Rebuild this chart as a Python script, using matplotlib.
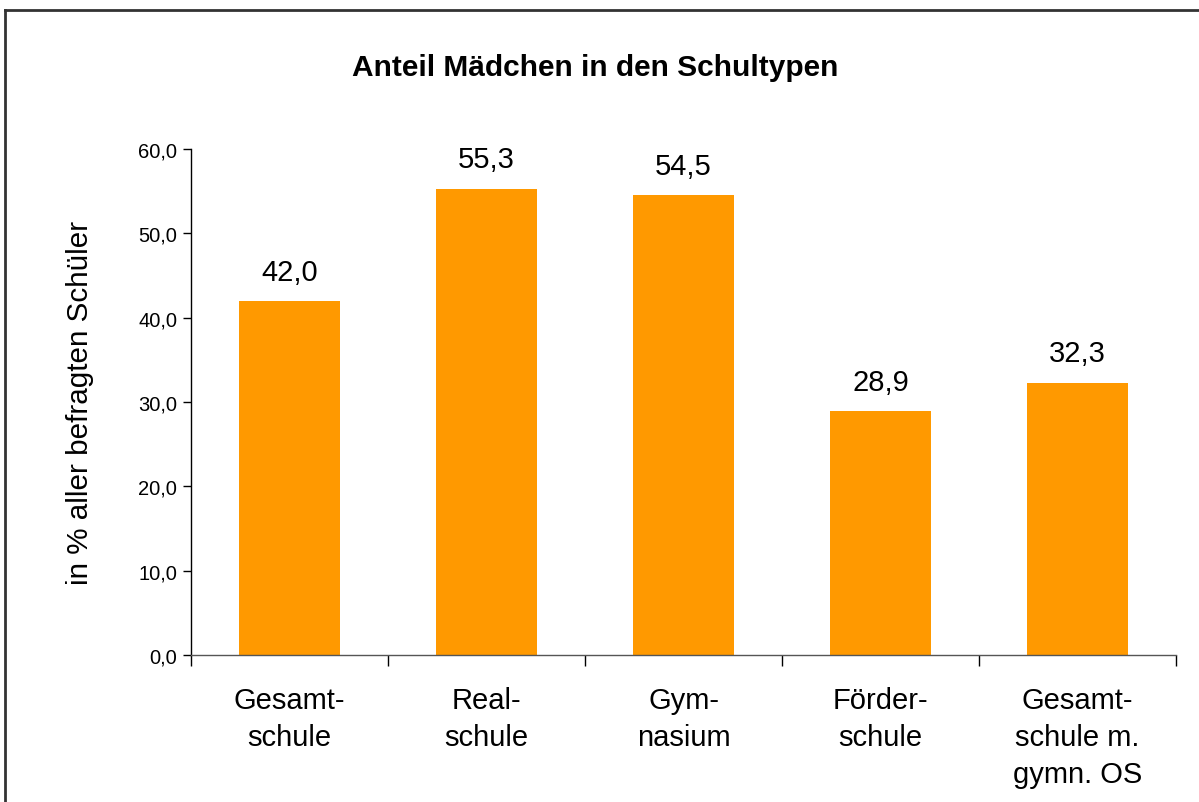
import matplotlib

matplotlib.use("Agg")
import matplotlib.pyplot as plt
from matplotlib.lines import Line2D
from matplotlib.ticker import FuncFormatter, MultipleLocator

categories = ["Gesamt-\nschule", "Real-\nschule", "Gym-\nnasium", "Förder-\nschule",
              "Gesamt-\nschule m.\ngymn. OS"]
values = [42.0, 55.3, 54.5, 28.9, 32.3]

W, H = 1199, 803
plt.rcParams["font.family"] = ["Liberation Sans", "DejaVu Sans"]

fig = plt.figure(figsize=(W / 100, H / 100), dpi=100)
ax = fig.add_axes([191 / W, 1 - 656 / H, (1176 - 191) / W, (656 - 150) / H])

x = range(len(categories))
ax.bar(x, values, width=0.51, color="#FF9900", zorder=2)
for xi, v in zip(x, values):
    ax.annotate(f"{v:.1f}".replace(".", ","), xy=(xi, v), xytext=(0, 11),
                textcoords="offset points", ha="center", va="bottom", fontsize=21)

ax.set_xlim(-0.5, len(categories) - 0.5)
ax.set_ylim(0, 60)
ax.yaxis.set_major_locator(MultipleLocator(10))
ax.yaxis.set_major_formatter(FuncFormatter(lambda v, p: f"{v:.1f}".replace(".", ",")))
ax.tick_params(axis="y", labelsize=14.5, length=6, width=1, direction="out", pad=4)

# category ticks sit between the bars
ax.set_xticks([i - 0.5 for i in range(len(categories) + 1)])
ax.set_xticklabels([])
ax.tick_params(axis="x", length=8, width=1, direction="out")
for xi, lab in zip(x, categories):
    ax.text(xi, -0.062, lab, transform=ax.get_xaxis_transform(), ha="center", va="top",
            fontsize=21, linespacing=1.4)

for s in ["top", "right"]:
    ax.spines[s].set_visible(False)
ax.spines["left"].set_linewidth(1)
ax.spines["bottom"].set_linewidth(1)
ax.spines["bottom"].set_color("#555555")

ax.set_ylabel("in % aller befragten Schüler", fontsize=21.3, labelpad=32)
fig.text(595 / W, 1 - 68 / H, "Anteil Mädchen in den Schultypen", ha="center", va="center",
         fontsize=21.5, fontweight="bold")

# outer frame (only left and top edges are visible in the crop)
fig.add_artist(Line2D([5 / W, 5 / W], [0, 1 - 11 / H], color="#333333", lw=2,
                      transform=fig.transFigure))
fig.add_artist(Line2D([5 / W, 1], [1 - 11 / H, 1 - 11 / H], color="#333333", lw=2,
                      transform=fig.transFigure))

fig.savefig("out.png", dpi=100, facecolor="white")
